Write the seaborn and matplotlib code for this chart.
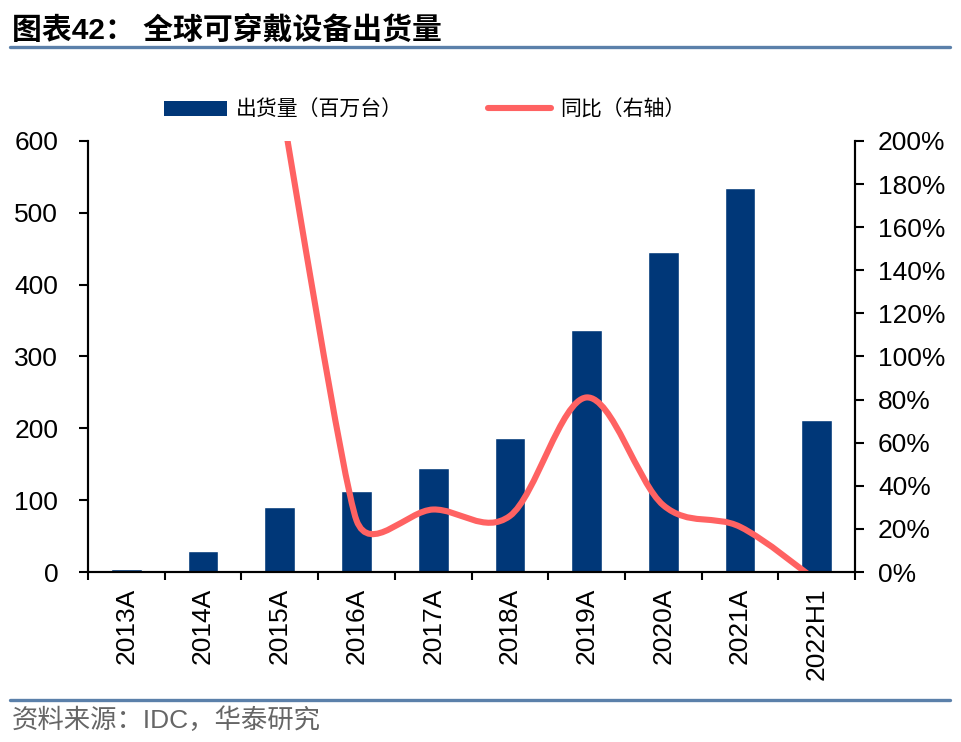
import numpy as np
import pandas as pd
import seaborn as sns
from matplotlib import pyplot as plt
from matplotlib.lines import Line2D
from matplotlib.patches import Patch, PathPatch
from matplotlib.path import Path
from matplotlib.ticker import FuncFormatter

# Data
years = ['2013A', '2014A', '2015A', '2016A', '2017A', '2018A',
         '2019A', '2020A', '2021A', '2022H1']
shipments = [4, 29, 90, 113, 145, 186, 337, 445, 534, 211]  # 百万台
yoy_years = ['2015A', '2016A', '2017A', '2018A', '2019A', '2020A', '2021A', '2022H1']
yoy = [221, 24, 29, 26, 81, 31, 21, -4]  # %

BAR_COLOR = '#003778'
LINE_COLOR = '#FF6262'
RULE_COLOR = '#5B80AA'


def smooth_path(ax, xs, ys):
    # Excel style smoothed line: bezier segments through every point,
    # control points shortened when neighbouring segments differ a lot
    pts = np.column_stack([xs, ys]).astype(float)
    pix = ax.transData.transform(pts)
    n = len(pts)
    f = np.full(n, 1 / 6)
    for i in range(1, n - 1):
        d01 = np.linalg.norm(pix[i] - pix[i - 1])
        d12 = np.linalg.norm(pix[i + 1] - pix[i])
        d02 = np.linalg.norm(pix[i + 1] - pix[i - 1])
        f[i] = min(1 / 6, d01 / (2 * d02), d12 / (2 * d02))
    verts = [pts[0]]
    codes = [Path.MOVETO]
    for i in range(n - 1):
        p_prev = pts[i - 1] if i > 0 else pts[i]
        p_next2 = pts[i + 2] if i + 2 < n else pts[i + 1]
        c1 = pts[i] + f[i] * (pts[i + 1] - p_prev)
        c2 = pts[i + 1] - f[i + 1] * (p_next2 - pts[i])
        verts += [c1, c2, pts[i + 1]]
        codes += [Path.CURVE4] * 3
    return Path(verts, codes)


def main():
    sns.set_style("ticks")
    plt.rcParams['font.family'] = ['Liberation Sans', 'Noto Sans CJK SC']
    plt.rcParams['text.color'] = 'black'
    plt.rcParams['xtick.color'] = 'black'
    plt.rcParams['ytick.color'] = 'black'
    cjk = ['Noto Sans CJK SC', 'Liberation Sans']

    df = pd.DataFrame({'year': years, 'shipments': shipments})

    fig = plt.figure(figsize=(9.61, 7.42), dpi=100)
    ax = fig.add_axes([0.0916, 0.2291, 0.7981, 0.5809])

    sns.barplot(data=df, x='year', y='shipments', color=BAR_COLOR,
                saturation=1, width=0.4, ax=ax)
    ax.set_xlim(-0.5, len(years) - 0.5)
    ax.set_ylim(0, 600)
    ax.set_yticks(range(0, 601, 100))
    ax.set_xlabel('')
    ax.set_ylabel('')

    # ticks between categories, labels at the centres
    ax.set_xticks(np.arange(-0.5, len(years), 1), minor=True)
    ax.tick_params(axis='x', which='major', length=0, pad=11,
                   labelrotation=90, labelsize=19)
    ax.tick_params(axis='x', which='minor', length=5.5, width=1.5,
                   direction='out', color='black')
    ax.tick_params(axis='y', length=6.5, width=1.5, labelsize=19, pad=15)

    # right axis: YoY line
    ax2 = ax.twinx()
    ax2.set_ylim(0, 200)
    ax2.set_yticks(range(0, 201, 20))
    ax2.yaxis.set_major_formatter(FuncFormatter(lambda v, _: f'{v:.0f}%'))
    ax2.tick_params(axis='y', length=6.5, width=1.5, labelsize=19, pad=10)
    xpos = [years.index(y) for y in yoy_years]
    path = smooth_path(ax2, xpos, yoy)
    ax2.add_patch(PathPatch(path, facecolor='none', edgecolor=LINE_COLOR,
                            lw=4.4, capstyle='round', joinstyle='round'))

    for a in (ax, ax2):
        a.spines['top'].set_visible(False)
        for side in ('left', 'right', 'bottom'):
            a.spines[side].set_linewidth(1.5)
            a.spines[side].set_color('black')
        a.grid(False)

    # legend above the plot
    handles = [Patch(facecolor=BAR_COLOR, edgecolor='none'),
               Line2D([], [], color=LINE_COLOR, lw=4.4, solid_capstyle='round')]
    labels = ['出货量（百万台）', '同比（右轴）']
    fig.legend(handles, labels, loc='center', bbox_to_anchor=(0.442, 0.852),
               ncol=2, frameon=False, prop={'family': cjk, 'size': 15},
               handlelength=3.0, handleheight=0.75, handletextpad=0.45,
               columnspacing=4.1)

    # title and source with blue rules
    fig.text(0.0125, 0.9596, '图表42： 全球可穿戴设备出货量', fontsize=21.5,
             fontweight='bold', va='center', ha='left')
    fig.add_artist(Line2D([0.0104, 0.9886], [0.9367, 0.9367], color=RULE_COLOR,
                          lw=2.4, transform=fig.transFigure))
    fig.add_artist(Line2D([0.0104, 0.9886], [0.0566, 0.0566], color=RULE_COLOR,
                          lw=2.4, transform=fig.transFigure))
    fig.text(0.0125, 0.0296, '资料来源：IDC，华泰研究', fontsize=19,
             color='#666666', va='center', ha='left')

    plt.savefig('out.png', dpi=100)


if __name__ == '__main__':
    main()
